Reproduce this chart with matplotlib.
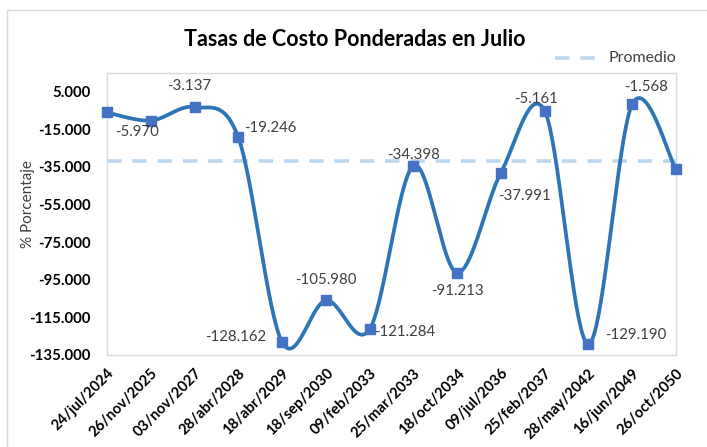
import numpy as np
import matplotlib
matplotlib.use("Agg")
import matplotlib.pyplot as plt
from matplotlib.lines import Line2D
from matplotlib.patches import Rectangle

plt.rcParams['font.family'] = ['Lato', 'DejaVu Sans']

dates = ["24/jul/2024", "26/nov/2025", "03/nov/2027", "28/abr/2028", "18/abr/2029",
         "18/sep/2030", "09/feb/2033", "25/mar/2033", "18/oct/2034", "09/jul/2036",
         "25/feb/2037", "28/may/2042", "16/jun/2049", "26/oct/2050"]
values = [-5.970, -10.3, -3.137, -19.246, -128.162, -105.980, -121.284, -34.398,
          -91.213, -37.991, -5.161, -129.190, -1.568, -36.3]
show_label = [True, False, True, True, True, True, True, True, True, True, True, True, True, False]
# label offsets in pixels (dx, dy)
label_offsets = [(30, -20), (0, 0), (-5, 21), (32, 9), (-46, 5), (0, 20), (35, -3),
                 (0, 11), (0, -18), (24, -23), (-9, 12), (47, 9), (14, 17), (0, 0)]
promedio = -31.9
yticks = [5, -15, -35, -55, -75, -95, -115, -135]

W, H = 707, 447
fig = plt.figure(figsize=(W / 100, H / 100), dpi=100)
ax = fig.add_axes([107 / W, 1 - 355 / H, (676 - 107) / W, (355 - 73) / H])

x = np.arange(len(values))
y = np.array(values, dtype=float)

# Excel-like smoothed line (Catmull-Rom Bezier)
def smooth(xs, ys, n=40):
    P = np.column_stack([xs, ys])
    pts = []
    m = len(P)
    for i in range(m - 1):
        p0 = P[i - 1] if i > 0 else P[i]
        p1 = P[i]
        p2 = P[i + 1]
        p3 = P[i + 2] if i + 2 < m else P[i + 1]
        c1 = p1 + (p2 - p0) / 6
        c2 = p2 - (p3 - p1) / 6
        t = np.linspace(0, 1, n)[:, None]
        seg = ((1 - t) ** 3) * p1 + 3 * ((1 - t) ** 2) * t * c1 + 3 * (1 - t) * t ** 2 * c2 + t ** 3 * p2
        pts.append(seg if i == 0 else seg[1:])
    pts = np.vstack(pts)
    return pts[:, 0], pts[:, 1]

sx, sy = smooth(x, y)
ax.plot(sx, sy, color='#2E75B6', lw=2.7, solid_capstyle='round', zorder=3, clip_on=False)
ax.plot(x, y, ls='none', marker='s', ms=6.5, color='#4472C4', zorder=4, clip_on=False)
ax.axhline(promedio, color='#BDD7EE', lw=2.6, ls=(0, (4, 3)), zorder=2)

for xi, yi, show, (dx, dy) in zip(x, y, show_label, label_offsets):
    if show:
        ax.annotate(f"{yi:.3f}", (xi, yi), xytext=(dx, dy), textcoords='offset pixels',
                    ha='center', va='center', fontsize=10.8, color='#404040', zorder=5)

ax.set_xlim(0, len(values) - 1)
ax.set_ylim(-135, 15)
ax.set_yticks(yticks)
ax.set_yticklabels([f"{v:.3f}" for v in yticks], fontsize=10.8, fontweight='bold')
ax.set_xticks(x)
ax.set_xticklabels(dates, rotation=45, ha='right', va='top', rotation_mode='anchor',
                   fontsize=10.6, fontweight='bold')
ax.tick_params(axis='both', length=0)
ax.tick_params(axis='y', pad=12)
ax.tick_params(axis='x', pad=8)
for s in ax.spines.values():
    s.set_color('#D9D9D9')
    s.set_linewidth(1)

fig.text(28 / W, 1 - 204 / H, "% Porcentaje", rotation=90, ha='center', va='center',
         fontsize=11, color='#404040')
fig.text(355 / W, 1 - 39 / H, "Tasas de Costo Ponderadas en Julio", ha='center', va='center',
         fontsize=15.5, fontweight='bold', color='black')

# legend
fig.add_artist(Line2D([555 / W, 603 / W], [1 - 58 / H, 1 - 58 / H], color='#BDD7EE', lw=2.6,
                      ls=(0, (4, 3))))
fig.text(609 / W, 1 - 58 / H, "Promedio", ha='left', va='center', fontsize=11.5, color='#404040')

fig.add_artist(Rectangle((7 / W, -0.05), 1.1, 1 - 10 / H + 0.05, transform=fig.transFigure,
                         fill=False, edgecolor='#D9D9D9', lw=1))

fig.savefig("out.png", dpi=100)
